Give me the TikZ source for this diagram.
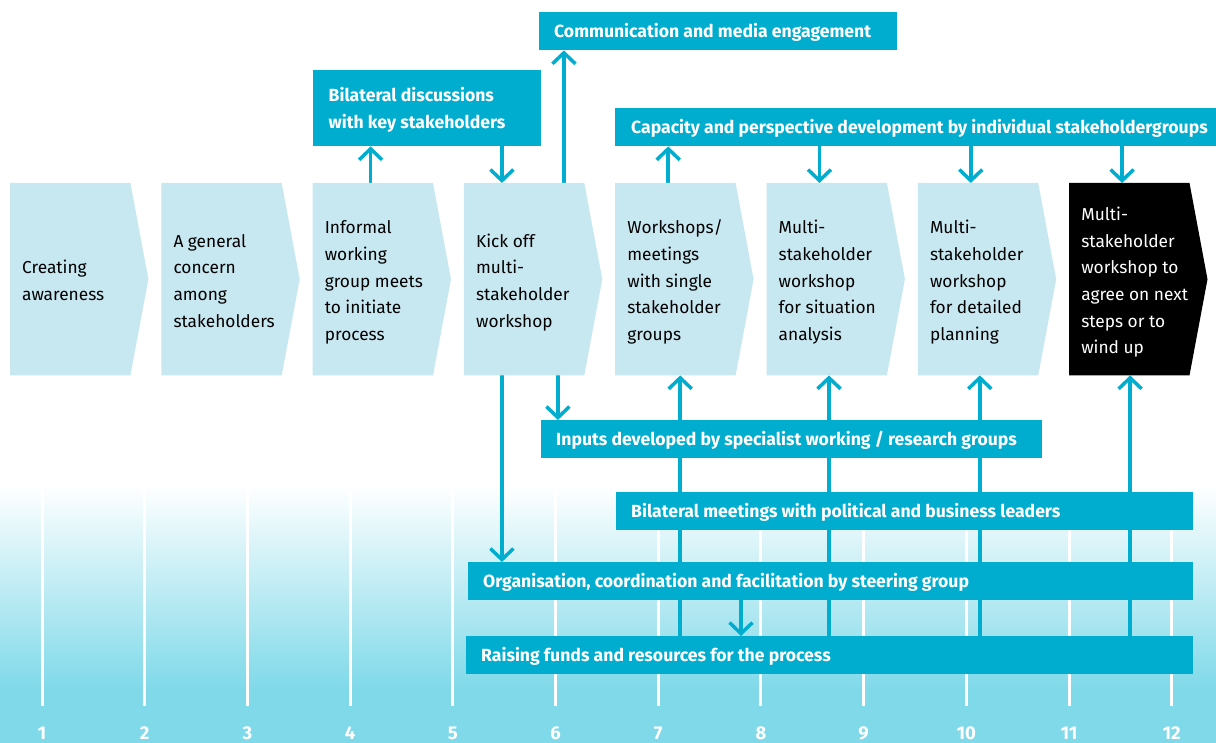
\documentclass[tikz,border=0pt]{standalone}
\usepackage{fontspec}
\setmainfont{Fira Sans}
\usetikzlibrary{arrows.meta,calc}
\definecolor{mteal}{RGB}{0,173,206}
\definecolor{mlight}{RGB}{200,232,241}
\definecolor{mbg}{RGB}{127,217,233}
\pgfdeclarelayer{back}
\pgfdeclarelayer{mid}
\pgfsetlayers{back,mid,main}
\newcommand\chevfont{\fontsize{17.3}{26.7}\selectfont}
\newcommand\bxfont{\fontsize{17.6}{26.7}\selectfont\bfseries}
\newcommand\numfont{\fontsize{18.5}{22}\selectfont\bfseries}
\tikzset{
  chev/.style={minimum width=120pt, minimum height=192pt, inner sep=0pt, anchor=north west},
  chevtxt/.style={anchor=north west, align=left, inner sep=0pt, font=\chevfont},
  bx/.style={fill=mteal, inner sep=0pt, anchor=north west},
  bxtxt/.style={anchor=west, inner sep=0pt, text=white, font=\bxfont, text height=12.3pt, text depth=0pt},
  bxtxttwo/.style={anchor=north west, align=left, inner sep=0pt, text=white, font=\bxfont},
  numst/.style={anchor=base, inner sep=0pt, text=white, font=\numfont},
  arr/.style={draw=mteal, line width=3.5pt, -{Straight Barb[length=11pt,width=23pt]}},
  ln/.style={draw=mteal, line width=3.5pt}
}
\begin{document}
\begin{tikzpicture}[x=1pt,y=-1pt]
\useasboundingbox (0,0) rectangle (1216,743);
\clip (0,0) rectangle (1216,743);
\begin{pgfonlayer}{back}
  \fill[white] (0,0) rectangle (1216,743);
  \shade[top color=white, bottom color=mbg] (0,485) rectangle (1216,690);
  \fill[mbg] (0,689.5) rectangle (1216,743);
  \foreach \i in {1,...,12} {
    \pgfmathsetmacro\xx{42+(\i-1)*102.7}
    \draw[white, line width=3pt] (\xx,490) -- (\xx,706);
    \node[numst] (n\i) at (\xx,739.5) {\i};
  }
\end{pgfonlayer}

% chevrons
\foreach \i/\n/\fc/\tc/\txt in {
  1/2/mlight/black/{Creating\\awareness},
  2/4/mlight/black/{A general\\concern\\among\\stakeholders},
  3/5/mlight/black/{Informal\\working\\group meets\\to initiate\\process},
  4/4/mlight/black/{Kick off\\multi-\\stakeholder\\workshop},
  5/5/mlight/black/{Workshops/\\meetings\\with single\\stakeholder\\groups},
  6/5/mlight/black/{Multi-\\stakeholder\\workshop\\for situation\\analysis},
  7/5/mlight/black/{Multi-\\stakeholder\\workshop\\for detailed\\planning},
  8/6/black/white/{Multi-\\stakeholder\\workshop to\\agree on next\\steps or to\\wind up}} {
  \pgfmathsetmacro\cx{10+(\i-1)*151.3}
  \pgfmathsetmacro\fb{280.5-((\n-1)*26.7-13)/2}
  \node[chev] (c\i) at (\cx,183) {};
  \fill[\fc] (c\i.north west) -- (c\i.north east) -- ([xshift=18pt]c\i.east) -- (c\i.south east) -- (c\i.south west) -- cycle;
  \node[chevtxt, text=\tc] (t\i) at (\cx+12,\fb-15) {\rule{0pt}{15pt}\txt};
}

% boxes
\node[bx, minimum width=358pt, minimum height=38pt] (comm) at (539,12) {};
\node[bxtxt] (commt) at ([xshift=15pt]comm.west) {Communication and media engagement};
\node[bx, minimum width=228pt, minimum height=76pt] (bild) at (313,70) {};
\node[bxtxttwo] (bildt) at (328.5,86.7) {\rule{0pt}{15pt}Bilateral discussions\\with key stakeholders};
\node[bx, minimum width=601pt, minimum height=38pt] (cap) at (615,108) {};
\node[bxtxt] (capt) at ([xshift=16pt]cap.west) {Capacity and perspective development by individual stakeholdergroups};
\node[bx, minimum width=501pt, minimum height=38pt] (inp) at (541,420) {};
\node[bxtxt] (inpt) at ([xshift=15pt]inp.west) {Inputs developed by specialist working / research groups};
\node[bx, minimum width=577pt, minimum height=38pt] (bmeet) at (616,492) {};
\node[bxtxt] (bmeett) at ([xshift=15pt]bmeet.west) {Bilateral meetings with political and business leaders};
\node[bx, minimum width=725pt, minimum height=38pt] (org) at (468,562) {};
\node[bxtxt] (orgt) at ([xshift=15pt]org.west) {Organisation, coordination and facilitation by steering group};
\node[bx, minimum width=727pt, minimum height=38pt] (raise) at (466,636) {};
\node[bxtxt] (raiset) at ([xshift=15pt]raise.west) {Raising funds and resources for the process};

% connectors
\begin{pgfonlayer}{mid}
  \draw[arr] ([xshift=58pt]c3.north west) -- ([xshift=58pt]c3.north west |- bild.south);
  \draw[arr] ([xshift=38pt]c4.north west |- bild.south) -- ([xshift=38pt]c4.north west);
  \draw[arr] ([xshift=100pt]c4.north west) -- ([xshift=100pt]c4.north west |- comm.south);
  \draw[arr] ([xshift=53pt]c5.north west) -- ([xshift=53pt]c5.north west |- cap.south);
  \foreach \k in {6,7,8}
    \draw[arr] ([xshift=53pt]c\k.north west |- cap.south) -- ([xshift=53pt]c\k.north west);
  \draw[arr] ([xshift=94pt]c4.south west) -- ([xshift=94pt]c4.south west |- inp.north);
  \draw[arr] ([xshift=38pt]c4.south west) -- ([xshift=38pt]c4.south west |- org.north);
  \draw[arr] ([xshift=273pt]org.south west) -- ([xshift=273pt]org.south west |- raise.north);
  \foreach \k/\o in {5/65,6/62.5,7/62,8/61}
    \draw[arr] ([xshift=\o pt]c\k.south west |- raise.north) -- ([xshift=\o pt]c\k.south west);
\end{pgfonlayer}
\end{tikzpicture}
\end{document}
